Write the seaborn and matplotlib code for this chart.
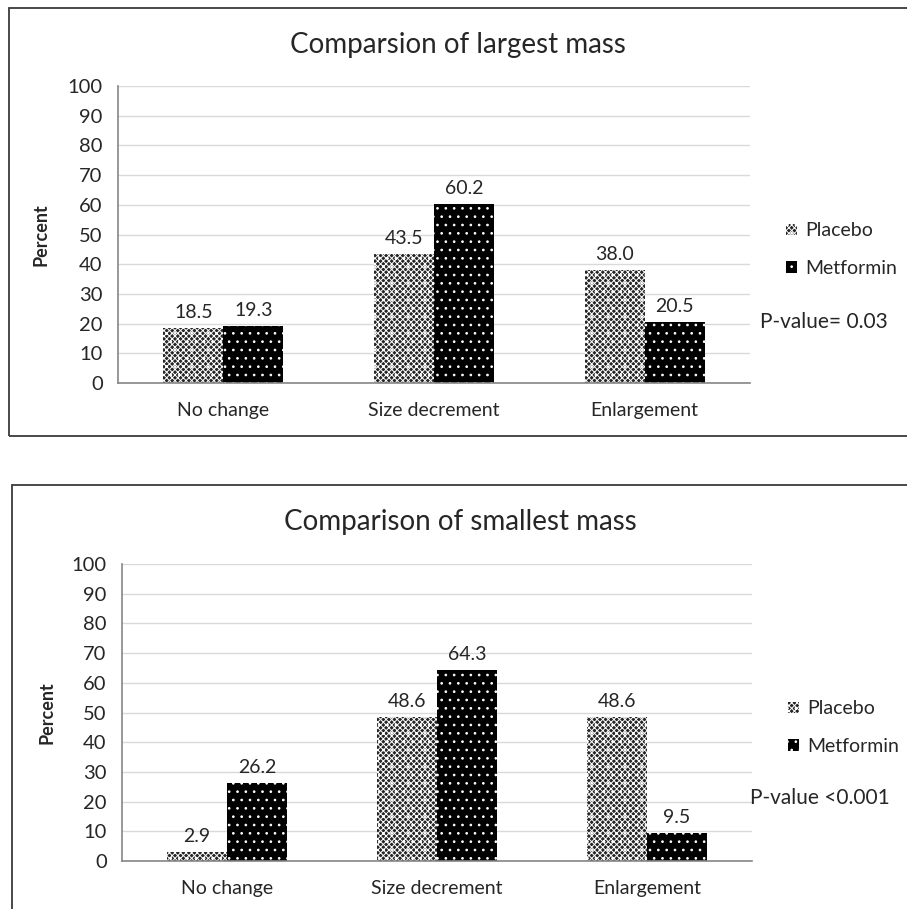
import matplotlib
matplotlib.use("Agg")
import matplotlib.pyplot as plt
from matplotlib.patches import Patch, Rectangle
import pandas as pd
import seaborn as sns

sns.set_style("white")
plt.rcParams["font.family"] = ["Lato", "DejaVu Sans"]
plt.rcParams["hatch.linewidth"] = 0.7

# data
categories = ["No change", "Size decrement", "Enlargement"]
groups = ["Placebo", "Metformin"]
largest_placebo = [18.5, 43.5, 38.0]
largest_metformin = [19.3, 60.2, 20.5]
smallest_placebo = [2.9, 48.6, 48.6]
smallest_metformin = [26.2, 64.3, 9.5]

W, H = 907, 909
GRID = "#d9d9d9"
AXIS = "#868686"

# hatch styles per group: (face, hatch)
styles = {
    "Placebo": ("#262626", "xxxxxx.."),
    "Metformin": ("#000000", ".."),
}


def make_frame(placebo, metformin):
    return pd.DataFrame({
        "category": categories * 2,
        "group": [groups[0]] * 3 + [groups[1]] * 3,
        "percent": placebo + metformin,
    })


def draw_panel(fig, rect_px, df, title, title_xy, pvalue, pvalue_xy, legend_anchor, ylabel_x):
    x0, y0, x1, y1 = rect_px
    ax = fig.add_axes([x0 / W, 1 - y1 / H, (x1 - x0) / W, (y1 - y0) / H])
    sns.barplot(data=df, x="category", y="percent", hue="group", order=categories,
                hue_order=groups, width=0.57, ax=ax, legend=False, errorbar=None)

    for cont, g in zip(ax.containers, groups):
        face, hatch = styles[g]
        for bar in cont:
            bar.set_facecolor(face)
            bar.set_edgecolor("white")
            bar.set_linewidth(0)
            bar.set_hatch(hatch)
        ax.bar_label(cont, fmt="%.1f", padding=5, fontsize=14)

    ax.set_ylim(0, 100)
    ax.set_xlim(-0.5, 2.5)
    ax.set_yticks(range(0, 101, 10))
    ax.set_xticks([0, 1, 2])
    ax.set_xticks([-0.5, 0.5, 1.5, 2.5], minor=True)
    ax.tick_params(axis="x", which="major", length=0, pad=14, labelsize=14)
    ax.tick_params(axis="x", which="minor", length=5, color=AXIS, direction="out")
    ax.tick_params(axis="y", length=5, color=AXIS, direction="out", labelsize=14.5, pad=6)
    ax.yaxis.grid(True, color=GRID, lw=1)
    ax.set_axisbelow(True)
    for s in ["top", "right"]:
        ax.spines[s].set_visible(False)
    for s in ["left", "bottom"]:
        ax.spines[s].set_color(AXIS)
        ax.spines[s].set_linewidth(1.2)
    ax.set_xlabel("")
    ax.set_ylabel("Percent", fontsize=13, fontweight="bold")
    ax.yaxis.set_label_coords(ylabel_x, 0.5)

    handles = [Patch(facecolor=styles[g][0], edgecolor="white", linewidth=0,
                     hatch=styles[g][1], label=g) for g in groups]
    ax.legend(handles=handles, loc="upper left", bbox_to_anchor=legend_anchor,
              frameon=False, fontsize=14, handlelength=0.55, handleheight=0.55,
              handletextpad=0.4, labelspacing=1.05)

    fig.text(title_xy[0] / W, 1 - title_xy[1] / H, title, ha="center", va="center", fontsize=20)
    fig.text(pvalue_xy[0] / W, 1 - pvalue_xy[1] / H, pvalue, ha="left", va="center", fontsize=15)
    return ax


fig = plt.figure(figsize=(W / 100, H / 100), dpi=100)

# outer chart borders
fig.add_artist(Rectangle((9 / W, 1 - 436 / H), (W - 9) / W + 0.01, 428 / H,
                         transform=fig.transFigure, fill=False, edgecolor="#3a3a3a", lw=1.3))
fig.add_artist(Rectangle((12 / W, -0.01), (W - 12) / W + 0.01, 1 - 485 / H + 0.01,
                         transform=fig.transFigure, fill=False, edgecolor="#3a3a3a", lw=1.3))

draw_panel(fig, (118, 86, 750, 383), make_frame(largest_placebo, largest_metformin),
           "Comparsion of largest mass", (458, 45), "P-value= 0.03", (760, 322),
           (1.03, 0.6), -0.108)
draw_panel(fig, (122, 564, 752, 861), make_frame(smallest_placebo, smallest_metformin),
           "Comparison of smallest mass", (460, 522), "P-value <0.001", (750, 798),
           (1.03, 0.6), -0.106)

fig.savefig("out.png", dpi=100)
